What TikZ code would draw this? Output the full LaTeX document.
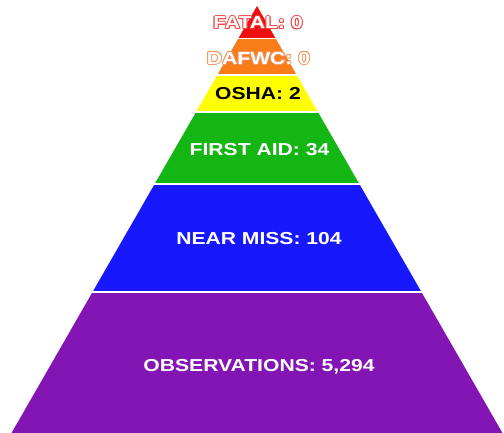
\documentclass[tikz,border=0pt]{standalone}
\usepackage{fontspec}
\newfontfamily\lblfont[FakeStretch=1.22]{Liberation Sans}
\definecolor{cred}{RGB}{240,14,14}
\definecolor{corange}{RGB}{248,125,25}
\definecolor{cyellow}{RGB}{255,255,0}
\definecolor{cgreen}{RGB}{20,182,20}
\definecolor{cblue}{RGB}{24,24,255}
\definecolor{cpurple}{RGB}{131,21,181}
\definecolor{fatalline}{RGB}{240,70,70}
\definecolor{dafwcline}{RGB}{242,150,100}
\tikzset{
  lbl/.style={font=\lblfont\bfseries\fontsize{17.3}{20}\selectfont, inner sep=0pt, anchor=base},
}
\begin{document}
\begin{tikzpicture}[x=1pt,y=-1pt]
\useasboundingbox[fill=white] (0,0) rectangle (504,433);
% pyramid: apex (257,6), half width 0.575*(y-6)
\begin{scope}
  \clip (257,6) -- (502.5,433) -- (11.5,433) -- cycle;
  \fill[cred]    (0,0)     rectangle (504,38);
  \fill[corange] (0,39.5)  rectangle (504,74.5);
  \fill[cyellow] (0,76.5)  rectangle (504,111.5);
  \fill[cgreen]  (0,113.5) rectangle (504,183.5);
  \fill[cblue]   (0,185.5) rectangle (504,290.5);
  \fill[cpurple] (0,293)   rectangle (504,433);
\end{scope}
% outlined labels
\foreach \a in {0,30,...,330}{
  \node[lbl, text=fatalline, shift={(\a:0.9pt)}] (fo\a) at (258,28.9) {FATAL: 0};
  \node[lbl, text=dafwcline, shift={(\a:0.9pt)}] (do\a) at (258.5,64.2) {DAFWC: 0};
}
\node[lbl, text=white] (fatal) at (258,28.9) {FATAL: 0};
\node[lbl, text=white] (dafwc) at (258.5,64.2) {DAFWC: 0};
\node[lbl, text=black] (osha) at (258,99.2) {OSHA: 2};
\node[lbl, text=white] (firstaid) at (259.5,155.2) {FIRST AID: 34};
\node[lbl, text=white] (nearmiss) at (259,244.2) {NEAR MISS: 104};
\node[lbl, text=white] (obs) at (259,371.2) {OBSERVATIONS: 5,294};
\end{tikzpicture}
\end{document}
